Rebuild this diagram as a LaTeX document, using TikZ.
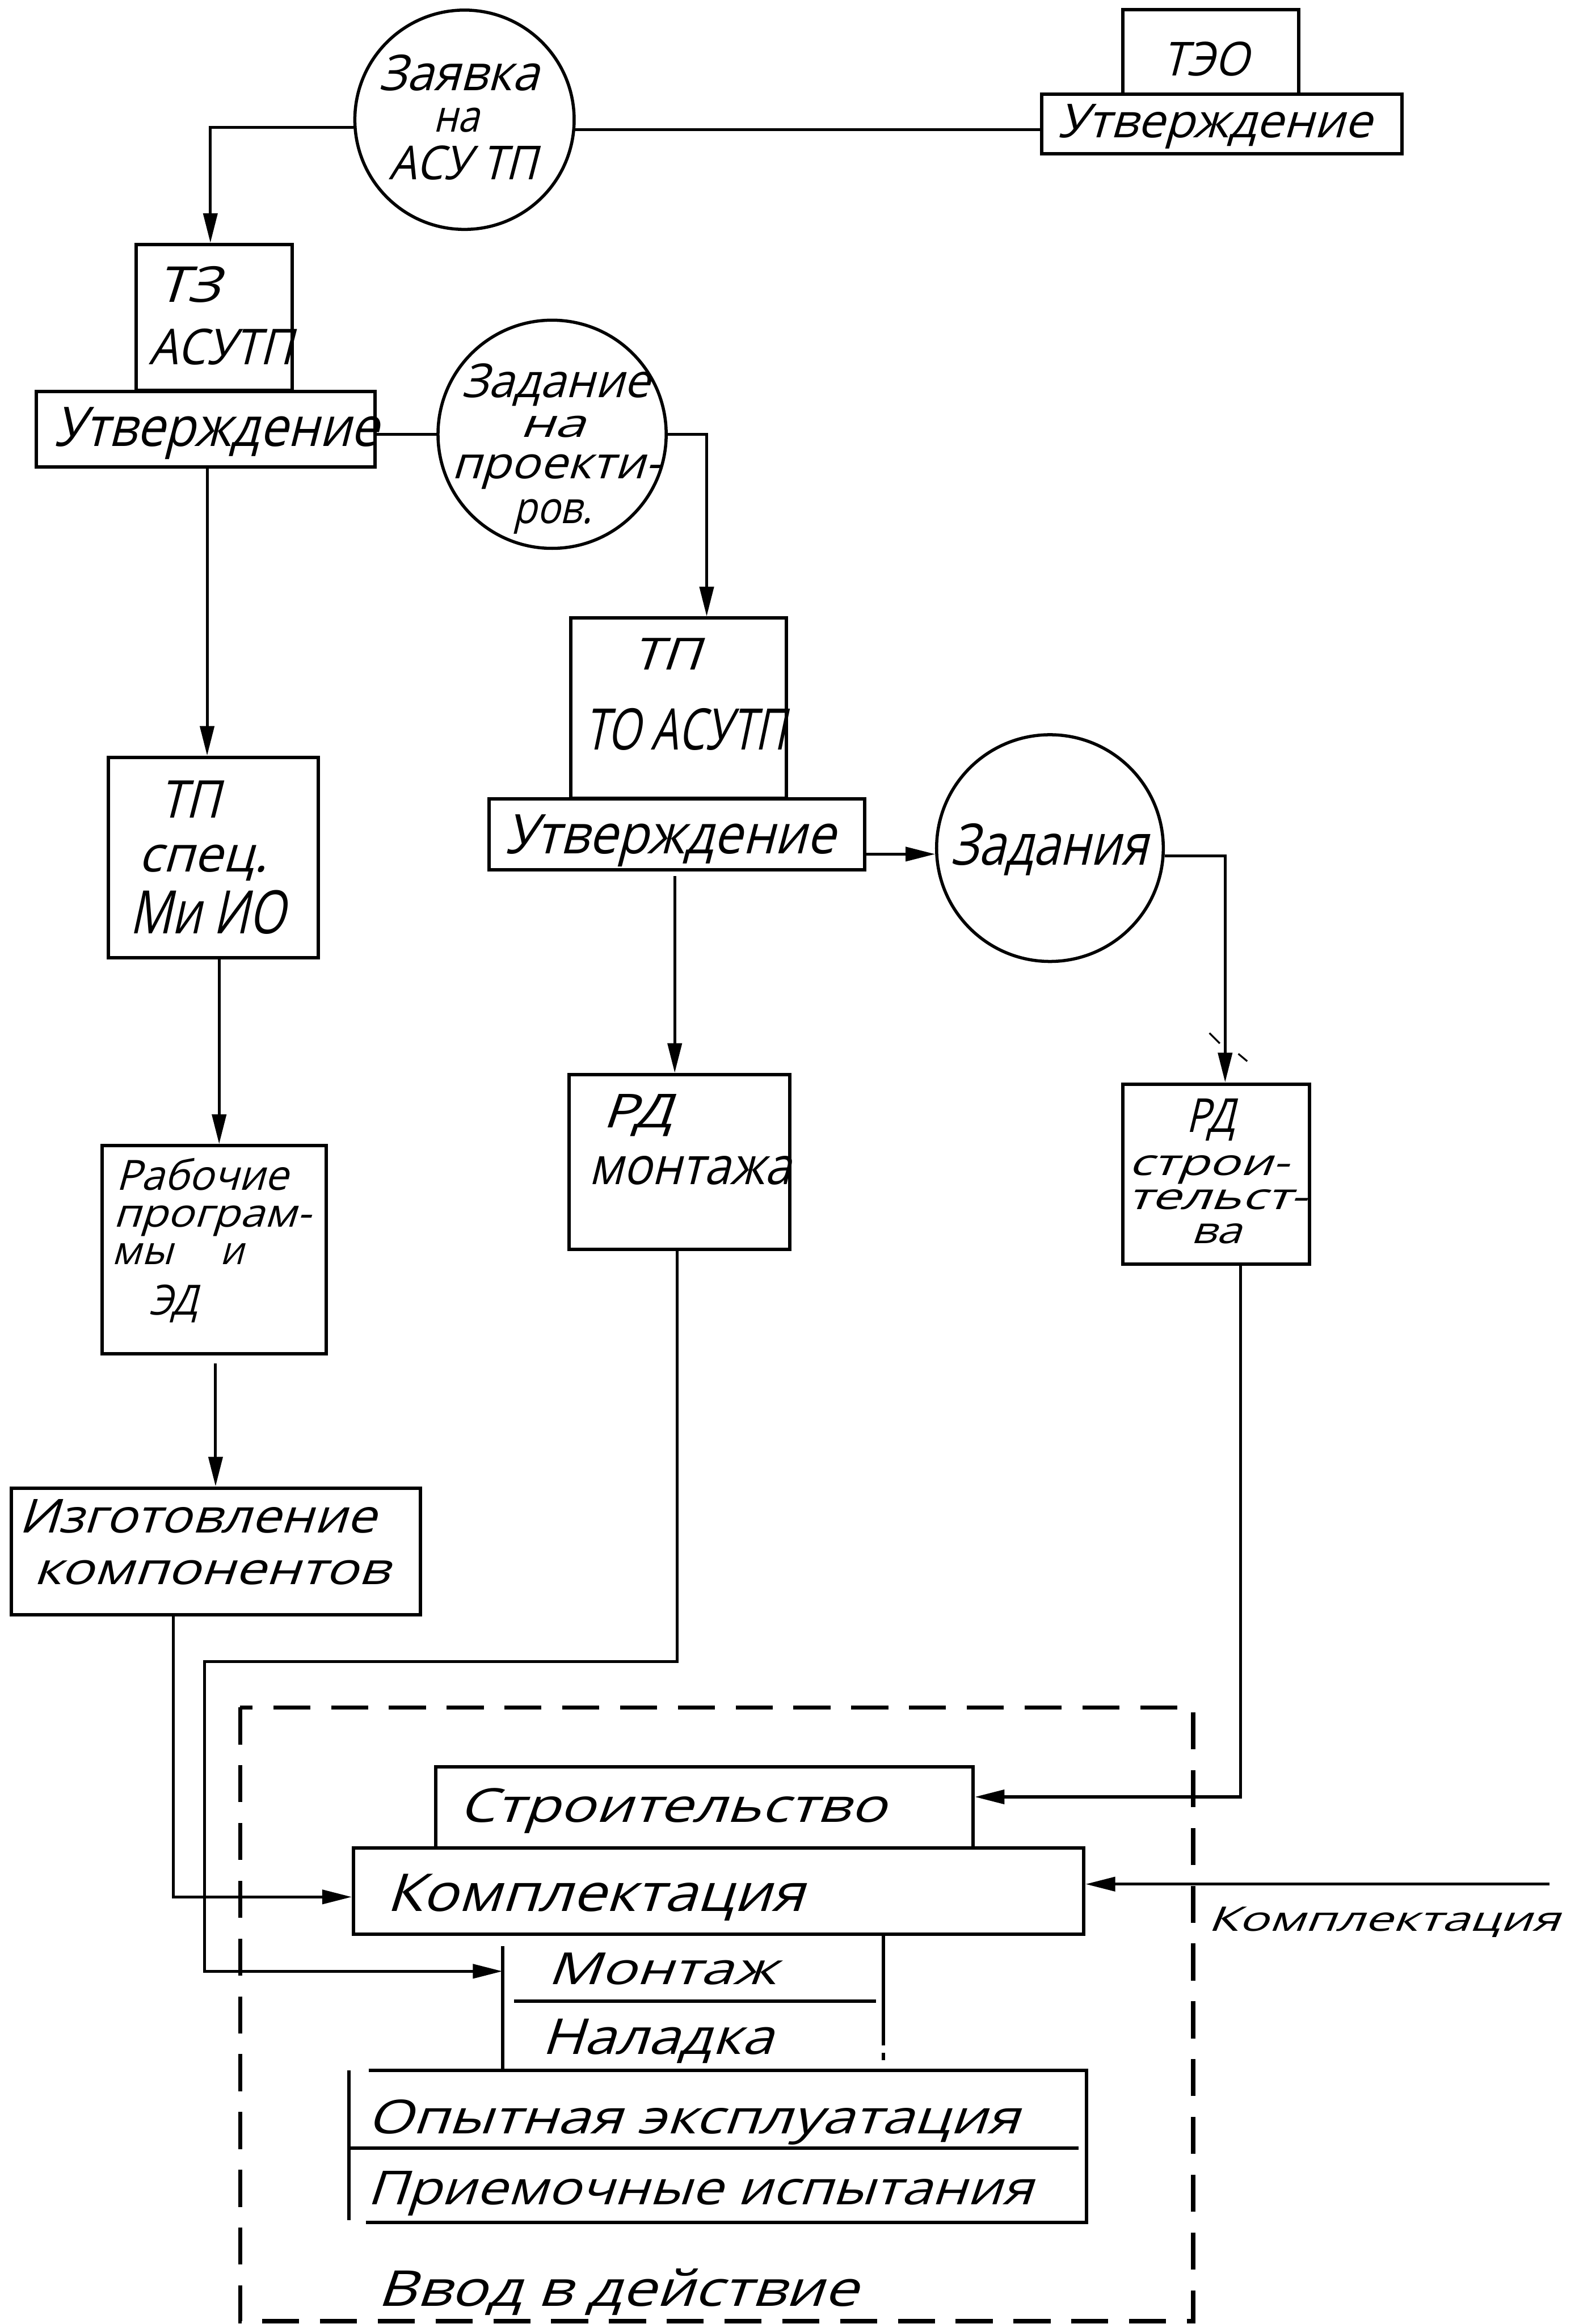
\documentclass[tikz,border=0pt]{standalone}
\usepackage{fontspec}
\usepackage{graphicx}
\newfontfamily\hwfam{Open Sans}[FakeSlant=0.28]
\usetikzlibrary{arrows.meta,fit}
% drawing unit
\newlength\ov
\setlength\ov{0.02cm}
% a handwritten line squeezed or stretched to a given width
\newcommand\hwfit[2]{\resizebox{#1\ov}{\height}{#2}}
\tikzset{
  box/.style={draw, line width=1.3pt, inner sep=0pt, rectangle},
  disc/.style={draw, line width=1.2pt, circle, inner sep=0pt},
  edge/.style={line width=1.3pt},
  conn/.style={line width=1.1pt},
  arr/.style={conn, -{Triangle[length=0.4cm,width=0.19cm]}},
  hw/.style={inner sep=0pt, anchor=base west, font=\fontsize{#1}{#1}\selectfont\hwfam},
  hw/.default=17,
  frame/.style={line width=1.6pt, dash pattern=on 0.5cm off 0.28cm},
  penmark/.style={line width=0.7pt},
}
\begin{document}
\begin{tikzpicture}[x=0.02cm, y=-0.02cm]
\useasboundingbox (0,0) rectangle (1065,1568);

% ---- circles
\node[disc, minimum size=2.96cm] (zayavka) at (313.4,80.8) {};
\node[disc, minimum size=3.08cm] (zadpr) at (372.5,293) {};
\node[disc, minimum size=3.06cm] (zadaniya) at (708.4,572.2) {};

% ---- boxes
\node[box, fit={(757.5,6.5) (876.4,63.4)}] (teo) {};
\node[box, fit={(703,63.4) (946,103.8)}] (teoutv) {};
\node[box, fit={(91.7,165) (197,263.5)}] (tz) {};
\node[box, fit={(24.5,264) (253,315)}] (utv1) {};
\node[box, fit={(73,511) (214.7,646)}] (tpspec) {};
\node[box, fit={(68.9,773) (220,913.3)}] (rab) {};
\node[box, fit={(7.5,1004) (283.7,1089.6)}] (izg) {};
\node[box, fit={(385,417) (530.6,538.5)}] (tpto) {};
\node[box, fit={(330,539) (583.5,587)}] (utv2) {};
\node[box, fit={(384,725) (533,842.8)}] (rdm) {};
\node[box, fit={(757.5,731.4) (883.7,853)}] (rds) {};
\node[box, fit={(294,1192) (656.6,1246.7)}] (stroi) {};
\node[box, fit={(238.5,1246.7) (731.3,1305)}] (kompl) {};

% ---- open block: mounting / adjustment
\draw[edge] (339,1313) -- (339,1397);
\draw[edge] (347,1350) -- (591,1350);
\draw[edge] (596,1306) -- (596,1380);
\draw[edge] (596,1385) -- (596,1390);

% ---- trial operation / acceptance block
\draw[edge] (249,1397) -- (733,1397) -- (733,1499.5) -- (247,1499.5);
\draw[edge] (235.6,1397) -- (235.6,1498);
\draw[edge] (235.6,1449.4) -- (727.6,1449.4);

% ---- commissioning frame
\draw[frame] (162,1152) rectangle (805,1566);

% ---- connectors
\coordinate (bendA) at (138,1121);
\coordinate (mzin) at (339,1330);
\coordinate (kin) at (1045.5,1271.2);

\draw[arr] (zayavka.184) -| ([xshift=-2.4\ov]tz.north);
\draw[conn] (zayavka.-5) -- (zayavka.-5 -| teoutv.west);
\draw[conn] (zadpr.west -| utv1.east) -- (zadpr.west);
\draw[arr] (zadpr.east) -| ([xshift=19\ov]tpto.north);
\draw[arr] ([xshift=1\ov]utv1.south) -- ([xshift=1\ov]utv1.south |- tpspec.north);
\draw[arr] ([xshift=4\ov]tpspec.south) -- ([xshift=4\ov]tpspec.south |- rab.north);
\draw[arr] ([xshift=1\ov,yshift=-5.5\ov]rab.south) -- ([xshift=1\ov]rab.south |- izg.north);
\draw[arr] ([xshift=-1.5\ov,yshift=-3\ov]utv2.south) -- ([xshift=-1.5\ov]utv2.south |- rdm.north);
\draw[arr] (zadaniya.183 -| utv2.east) -- (zadaniya.183);
\draw[arr] (zadaniya.-4.5) -| ([xshift=6\ov]rds.north);
\draw[arr] ([xshift=-28.75\ov]izg.south) |- ([yshift=-4\ov]kompl.west);
\draw[arr] ([xshift=-1.5\ov]rdm.south) |- (bendA) |- (mzin);
\draw[arr] ([xshift=16.5\ov]rds.south) |- ([yshift=7\ov]stroi.east);
\draw[arr] (kin) -- (kin -| kompl.east);

% small pen marks beside the arrow into the building documentation box
\draw[penmark] (816,697) -- (823,704);
\draw[penmark] (835.5,711) -- (841.5,716);

% ---- texts
\node[hw=19] (tza1) at (255,61) {\hwfit{108}{Заявка}};
\node[hw=17] (tza2) at (292,89) {\hwfit{31}{на}};
\node[hw=18] (tza3) at (262,121) {\hwfit{100}{АСУ ТП}};

\node[hw=18] (tteo) at (784,51) {\hwfit{58}{ТЭО}};
\node[hw=18] (tut0) at (713,93) {\hwfit{212}{Утверждение}};

\node[hw=19] (ttz1) at (105,204) {\hwfit{43}{ТЗ}};
\node[hw=19] (ttz2) at (100,246) {\hwfit{97}{АСУТП}};
\node[hw=21] (tut1) at (36,301) {\hwfit{219}{Утверждение}};

\node[hw=18] (tzp1) at (311,268) {\hwfit{127}{Задание}};
\node[hw=15] (tzp2) at (350,295) {\hwfit{44}{на}};
\node[hw=17] (tzp3) at (304,323) {\hwfit{141}{проекти-}};
\node[hw=17] (tzp4) at (346,353) {\hwfit{53}{ров.}};

\node[hw=20] (tsp1) at (107,552) {\hwfit{41}{ТП}};
\node[hw=19] (tsp2) at (93,588) {\hwfit{87}{спец.}};
\node[hw=23] (tsp3) at (87,630) {\hwfit{105}{Ми ИО}};

\node[hw=17] (tto1) at (426,452) {\hwfit{46}{ТП}};
\node[hw=22] (tto2) at (394,506) {\hwfit{136}{ТО АСУТП}};
\node[hw=21] (tut2) at (340,576) {\hwfit{223}{Утверждение}};

\node[hw=22] (tzd) at (641,583.5) {\hwfit{133}{Задания}};

\node[hw=18] (trm1) at (406,761) {\hwfit{47}{РД}};
\node[hw=20] (trm2) at (397,799) {\hwfit{136}{монтажа}};

\node[hw=18] (trs1) at (800,764) {\hwfit{33}{РД}};
\node[hw=14] (trs2) at (761,793) {\hwfit{108}{строи-}};
\node[hw=14] (trs3) at (760,816) {\hwfit{121}{тельст-}};
\node[hw=14] (trs4) at (803,839) {\hwfit{34}{ва}};

\node[hw=16] (trb1) at (78,803) {\hwfit{116}{Рабочие}};
\node[hw=15] (trb2) at (76,828) {\hwfit{133}{програм-}};
\node[hw=15] (trb3) at (75,853) {\hwfit{41}{мы}};
\node[hw=15] (trb4) at (148,853) {\hwfit{16}{и}};
\node[hw=16] (trb5) at (100,887) {\hwfit{33}{ЭД}};

\node[hw=18] (tiz1) at (12,1034) {\hwfit{241}{Изготовление}};
\node[hw=17] (tiz2) at (22,1069) {\hwfit{240}{компонентов}};

\node[hw=18] (tstr) at (309,1229.5) {\hwfit{288}{Строительство}};
\node[hw=20] (tkom) at (260,1289.5) {\hwfit{282}{Комплектация}};
\node[hw=17] (tmon) at (369,1339) {\hwfit{154}{Монтаж}};
\node[hw=19] (tnal) at (365,1386) {\hwfit{156}{Наладка}};
\node[hw=18] (topy) at (247,1439.5) {\hwfit{440}{Опытная эксплуатация}};
\node[hw=18] (tpri) at (247,1487.5) {\hwfit{449}{Приемочные испытания}};
\node[hw=19] (tvvod) at (254,1556) {\hwfit{324}{Ввод в действие}};

\node[hw=13] (tkin) at (814.6,1303) {\hwfit{237}{Комплектация}};
\end{tikzpicture}
\end{document}
